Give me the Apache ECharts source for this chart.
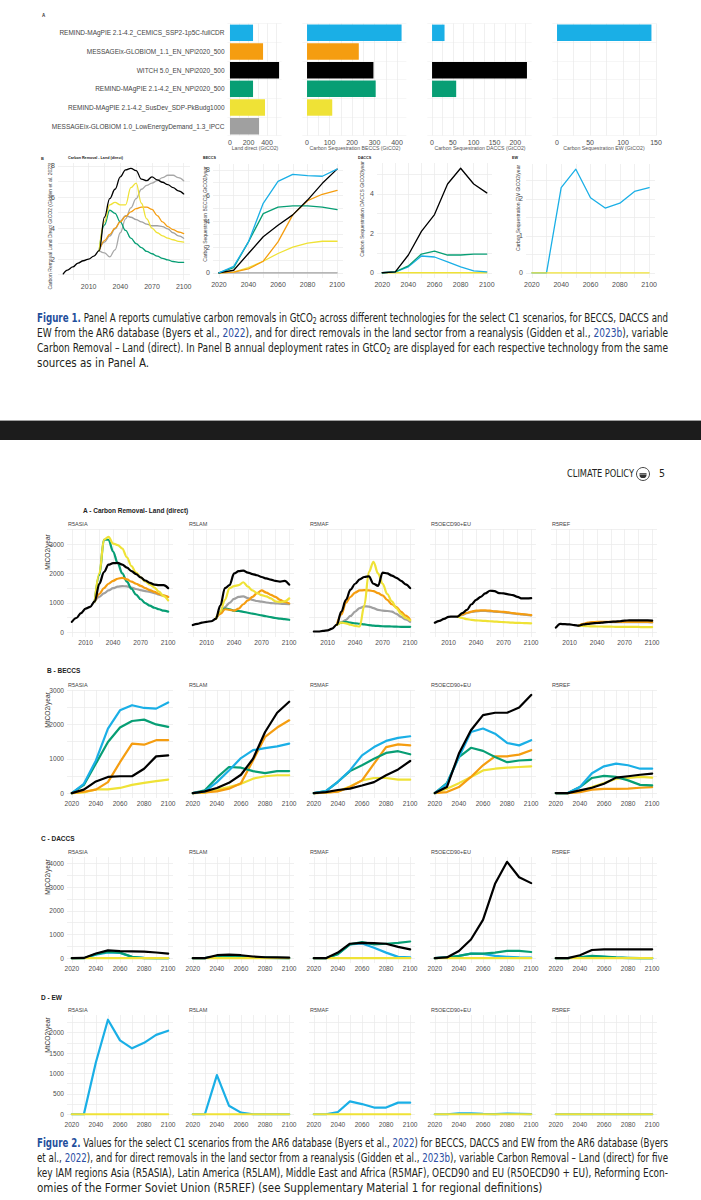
<!DOCTYPE html>
<html><head><meta charset="utf-8"><title>Carbon removal figures</title>
<script src="https://cdn.jsdelivr.net/npm/echarts@6.0.0/dist/echarts.min.js"></script>
<style>
html,body{margin:0;padding:0;background:#fff;}
#wrap{position:relative;width:701px;height:1200px;overflow:hidden;background:#fff;}
#chart{position:absolute;left:0;top:0;width:701px;height:1200px;}
.ln{position:absolute;white-space:nowrap;font-family:"Liberation Sans Narrow","DejaVu Sans Condensed","Liberation Sans",sans-serif;font-size:11.5px;line-height:13px;color:#231f20;}
.ln>span{display:inline-block;white-space:nowrap;transform-origin:0 50%;}
.fig{color:#1f4f9c;font-weight:bold;}
.ref{color:#2b4ea3;}
sub{font-size:70%;vertical-align:-0.25em;line-height:0;}
#band{position:absolute;left:0;top:420px;width:701px;height:19px;background:#1c1c1c;border-top:1px solid #a0a0a0;}
</style></head>
<body>
<div id="wrap">
<div id="chart"></div>
<div id="band"></div>
<div class="ln" style="left:37px;top:312px" data-w="631" data-mode="justify"><span><b class="fig">Figure 1.</b> Panel A reports cumulative carbon removals in GtCO<sub>2</sub> across different technologies for the select C1 scenarios, for BECCS, DACCS and</span></div>
<div class="ln" style="left:37px;top:327px" data-w="631" data-mode="justify"><span>EW from the AR6 database (Byers et al., <span class="ref">2022</span>), and for direct removals in the land sector from a reanalysis (Gidden et al., <span class="ref">2023b</span>), variable</span></div>
<div class="ln" style="left:37px;top:342px" data-w="631" data-mode="justify"><span>Carbon Removal – Land (direct). In Panel B annual deployment rates in GtCO<sub>2</sub> are displayed for each respective technology from the same</span></div>
<div class="ln" style="left:37px;top:357px" data-w="631" data-mode="last"><span>sources as in Panel A.</span></div>
<div class="ln" style="left:567px;top:467px;font-size:11px;" data-w="67" data-mode="fit"><span>CLIMATE POLICY</span></div>
<div class="ln" style="left:659px;top:467px;font-size:11px;" data-w="6" data-mode="fit"><span>5</span></div>
<div class="ln" style="left:37px;top:1137px" data-w="631" data-mode="justify"><span><b class="fig">Figure 2.</b> Values for the select C1 scenarios from the AR6 database (Byers et al., <span class="ref">2022</span>) for BECCS, DACCS and EW from the AR6 database (Byers</span></div>
<div class="ln" style="left:37px;top:1152px" data-w="631" data-mode="justify"><span>et al., <span class="ref">2022</span>), and for direct removals in the land sector from a reanalysis (Gidden et al., <span class="ref">2023b</span>), variable Carbon Removal – Land (direct) for five</span></div>
<div class="ln" style="left:37px;top:1167px" data-w="631" data-mode="justify"><span>key IAM regions Asia (R5ASIA), Latin America (R5LAM), Middle East and Africa (R5MAF), OECD90 and EU (R5OECD90 + EU), Reforming Econ-</span></div>
<div class="ln" style="left:37px;top:1182px" data-w="631" data-mode="last"><span>omies of the Former Soviet Union (R5REF) (see Supplementary Material 1 for regional definitions)</span></div>
</div>
<script>
// ---------------- DATA ----------------
const scenarios = [
  "REMIND-MAgPIE 2.1-4.2_CEMICS_SSP2-1p5C-fullCDR",
  "MESSAGEix-GLOBIOM_1.1_EN_NPi2020_500",
  "WITCH 5.0_EN_NPi2020_500",
  "REMIND-MAgPIE 2.1-4.2_EN_NPi2020_500",
  "REMIND-MAgPIE 2.1-4.2_SusDev_SDP-PkBudg1000",
  "MESSAGEix-GLOBIOM 1.0_LowEnergyDemand_1.3_IPCC"
];
const scenarioColorKeys = ["cyan","orange","black","green","yellow","grey"];
// Panel A (Figure 1): cumulative removals, GtCO2
const cumLandDirect = [249, 357, 530, 249, 378, 314];
const cumBECCS      = [420, 230, 295, 305, 112, null];
const cumDACCS      = [30, null, 228, 58, null, null];
const cumEW         = [143, null, null, null, null, null];

// Panel B (Figure 1): annual rates, GtCO2/yr
const yearsB1 = [1986,1990,1995,2000,2005,2010,2015,2020,2025,2030,2035,2040,2045,2050,2055,2060,2065,2070,2075,2080,2085,2090,2095,2100];
const landGlobal = {
  grey2: [null,null,null,null,null,null,null,2.55,2.4,2.15,2.6,3.7,4.6,5.3,5.9,6.5,6.75,6.9,7.05,7.25,7.4,7.4,7.25,7.05],
  grey:  [null,null,null,null,null,null,null,2.55,3.1,3.5,3.95,4.45,4.8,4.7,4.55,4.4,4.25,4.15,4.15,4.1,3.95,3.7,3.5,3.35],
  green: [null,null,null,null,null,null,null,2.55,4.2,5.15,4.95,4.4,3.85,3.35,3.0,2.75,2.5,2.35,2.2,2.05,1.95,1.85,1.8,1.8],
  orange:[null,null,null,null,null,null,null,2.55,3.2,3.6,4.0,4.4,4.75,5.05,5.25,5.35,5.35,5.2,4.8,4.4,4.1,3.9,3.75,3.65],
  yellow:[null,null,null,null,null,null,null,2.55,4.4,5.5,5.65,5.5,5.5,6.6,6.9,5.6,4.6,4.0,3.7,3.5,3.35,3.25,3.15,3.1],
  black: [1.05,1.3,1.5,1.75,1.9,2.0,2.2,2.55,4.7,5.9,6.5,7.3,7.75,7.85,7.7,7.15,7.05,7.3,7.1,6.95,6.8,6.6,6.4,6.2]
};
const years10 = [2020,2030,2040,2050,2060,2070,2080,2090,2100];
const beccsGlobal = {
  grey:  [0,0,0,0,0,0,0,0,0],
  yellow:[0,0.05,0.4,0.9,1.5,2.0,2.3,2.45,2.45],
  orange:[0,0.05,0.3,0.9,2.4,4.5,5.6,6.1,6.4],
  green: [0,0.4,2.4,4.6,5.1,5.2,5.2,5.1,4.9],
  black: [0,0.2,1.5,2.8,3.7,4.5,5.65,6.95,8.05],
  cyan:  [0,0.5,2.4,5.4,7.1,7.65,7.55,7.5,8.05]
};
const daccsGlobal = {
  yellow:[0,0,0,0,0,0,0,0,0],
  cyan:  [0,0.05,0.3,0.85,0.8,0.55,0.3,0.1,0.05],
  green: [0,0.05,0.35,0.95,1.1,0.9,0.9,0.95,0.95],
  black: [0,0.05,0.9,2.1,2.95,4.5,5.3,4.5,4.05]
};
const ewGlobal = {
  cyan:  [0,0,2.3,2.8,2.03,1.75,1.88,2.2,2.3],
  yellow:[0,0,0,0,0,0,0,0,0]
};

// Figure 2: regional values, MtCO2/yr
const regions = ["R5ASIA","R5LAM","R5MAF","R5OECD90+EU","R5REF"];
const years5 = [1995,2000,2005,2010,2015,2020,2025,2030,2035,2040,2045,2050,2055,2060,2065,2070,2075,2080,2085,2090,2095,2100];
const N5 = [null,null,null,null,null];
const landASIA = {
  grey:  N5.concat([1050,1200,1320,1420,1500,1550,1570,1560,1520,1470,1430,1400,1370,1330,1280,1240,1200]),
  green: N5.concat([1050,1950,3150,3150,2750,2350,2000,1720,1480,1280,1120,990,900,830,780,730,700]),
  orange:N5.concat([1050,1300,1500,1650,1750,1820,1850,1800,1720,1650,1580,1500,1430,1370,1300,1250,1200]),
  yellow:N5.concat([1050,2000,3150,3250,3020,2970,2850,2550,2250,2030,1870,1730,1620,1520,1380,1230,1080]),
  black: [350,480,650,800,860,1050,1650,2050,2300,2350,2360,2300,2200,2080,1980,1870,1760,1680,1620,1600,1600,1500]
};
const landLAM = {
  grey:  N5.concat([450,650,850,1000,1130,1200,1220,1160,1100,1060,1040,1010,990,980,970,960,950]),
  green: N5.concat([450,650,800,780,730,720,690,660,630,600,570,540,510,480,460,440,420]),
  orange:N5.concat([450,620,780,760,730,800,950,1080,1200,1330,1420,1350,1270,1200,1100,1030,980]),
  yellow:N5.concat([450,700,1100,1500,1570,1600,1700,1550,1420,1330,1260,1220,1150,1050,1020,1050,1150]),
  black: [240,280,320,350,370,450,900,1500,1600,2000,2080,2100,2030,1980,1940,1880,1830,1790,1750,1720,1750,1620]
};
const landMAF = {
  grey:  N5.concat([250,330,420,550,700,820,880,870,820,760,730,720,700,620,520,430,350]),
  green: N5.concat([250,320,350,320,300,285,260,240,220,210,200,195,190,185,180,180,180]),
  orange:N5.concat([250,600,1000,1200,1350,1420,1430,1420,1400,1330,1250,1100,950,850,700,560,420]),
  yellow:N5.concat([250,320,300,250,210,190,900,2050,2400,2000,1650,1300,1050,820,620,480,400]),
  black: [20,20,40,60,120,250,700,1100,1450,1650,1800,1880,1900,1650,1580,2030,2000,1930,1850,1750,1630,1500]
};
const landOECD = {
  grey:  N5.concat([530,590,645,685,710,720,720,710,695,685,675,655,635,615,600,590,570]),
  orange:N5.concat([530,600,660,700,730,740,740,730,710,700,690,670,650,630,610,600,580]),
  yellow:N5.concat([530,480,440,420,400,390,380,370,360,350,340,330,320,315,310,305,300]),
  black: [320,380,450,520,530,530,650,760,950,1100,1200,1320,1410,1400,1330,1320,1290,1260,1200,1150,1150,1160]
};
const landREF = {
  grey:  N5.concat([220,270,310,330,340,340,340,340,340,340,340,340,340,340,340,335,330]),
  orange:N5.concat([220,280,320,340,350,350,350,350,350,350,350,350,350,350,350,345,340]),
  yellow:N5.concat([220,210,200,195,190,190,185,185,180,180,180,175,175,175,170,170,170]),
  black: [150,280,270,260,240,220,260,280,300,310,320,340,350,360,370,390,400,400,400,400,400,390]
};
const beccsASIA = {yellow:[0,20,110,110,150,240,300,350,390], orange:[0,40,100,320,900,1440,1410,1540,1540], green:[0,240,860,1490,1910,2100,2140,2000,1930], cyan:[0,270,950,1880,2410,2560,2480,2460,2640], black:[0,100,340,470,490,490,710,1070,1100]};
const beccsLAM  = {yellow:[0,10,100,175,270,420,490,520,520], orange:[0,20,50,130,290,950,1640,1910,2120], green:[0,80,450,760,740,640,580,640,640], cyan:[0,50,320,660,1020,1250,1310,1360,1440], black:[0,50,150,300,535,1000,1780,2340,2660]};
const beccsMAF  = {yellow:[0,10,50,195,370,440,440,390,390], orange:[0,10,40,175,370,860,1340,1420,1390], green:[0,60,330,640,810,1000,1170,1220,1130], cyan:[0,60,330,660,1100,1340,1520,1610,1655], black:[0,30,90,130,220,320,520,690,935]};
const beccsOECD = {yellow:[0,130,290,470,660,710,740,760,780], orange:[0,30,175,470,810,1070,1070,1120,1250], green:[0,290,1050,1320,1230,1050,900,950,970], cyan:[0,270,1050,1780,1880,1730,1460,1390,1540], black:[0,175,1150,1830,2270,2340,2340,2490,2860]};
const beccsREF  = {yellow:[0,0,40,175,290,420,440,470,450], orange:[0,0,30,100,125,125,130,155,175], green:[0,0,175,440,500,470,370,240,225], cyan:[0,0,175,580,780,860,810,710,710], black:[0,0,80,155,270,450,490,535,565]};
const daccsASIA = {cyan:[0,0,150,240,220,60,10,0,0], green:[0,0,170,260,235,55,0,0,0], yellow:[0,0,0,0,0,0,0,0,0], black:[0,10,200,330,300,290,280,240,190]};
const daccsLAM  = {cyan:[0,0,70,90,70,30,10,0,0], green:[0,0,80,100,80,40,20,10,0], yellow:[0,0,0,0,0,0,0,0,0], black:[0,0,125,150,125,70,40,30,20]};
const daccsMAF  = {cyan:[0,0,180,580,620,440,235,55,30], green:[0,0,170,580,680,580,610,650,705], yellow:[0,0,0,0,0,0,0,0,0], black:[0,0,235,610,650,640,610,480,375]};
const daccsOECD = {cyan:[0,30,100,195,180,100,60,30,20], green:[0,30,100,195,195,235,305,305,260], yellow:[0,0,0,0,0,0,0,0,0], black:[0,30,305,790,1620,3140,4070,3420,3170]};
const daccsREF  = {cyan:[0,0,40,90,60,20,0,0,0], green:[0,0,40,100,70,30,10,0,0], yellow:[0,0,0,0,0,0,0,0,0], black:[0,0,125,345,375,375,375,375,375]};
const ewASIA = {cyan:[0,0,1275,2315,1810,1615,1750,1945,2045], yellow:[0,0,0,0,0,0,0,0,0]};
const ewLAM  = {cyan:[0,0,960,210,40,0,0,0,0], yellow:[0,0,0,0,0,0,0,0,0]};
const ewMAF  = {cyan:[0,0,55,315,250,165,165,285,285], yellow:[0,0,0,0,0,0,0,0,0]};
const ewOECD = {cyan:[0,0,25,25,10,5,15,10,5], yellow:[0,0,0,0,0,0,0,0,0]};
const ewREF  = {cyan:[0,0,0,0,0,0,0,0,0], yellow:[0,0,0,0,0,0,0,0,0]};

// ---------------- STYLE ----------------
const COL = {cyan:'#1AAFE6', orange:'#F59D10', black:'#000000', green:'#079E74', yellow:'#EFE236', grey:'#A0A0A0', grey2:'#A8A8A8'};
const GRIDC = '#e9e9e9';
const TXT = '#4d4d4d';
const FONT = '"Liberation Sans", Arial, sans-serif';

const grids=[], xAxes=[], yAxes=[], series=[], graphics=[];

function valAxis(i, a, fs, margin, showLab){
  return {
    gridIndex:i, type:'value', min:a.min, max:a.max, inverse:false,
    axisLine:{show:false}, axisTick:{show:false, customValues:a.ticks},
    axisLabel:{show:showLab!==false, customValues:a.labels, formatter:v=>String(v), fontSize:fs, color:TXT, margin:margin, fontFamily:FONT,
      hideOverlap:false, showMinLabel:true, showMaxLabel:true},
    splitLine:{show:true, lineStyle:{color:GRIDC, width:0.7}},
    minorSplitLine:{show:false}
  };
}
function addGrid(box){
  grids.push({left:box[0], top:box[1], width:box[2], height:box[3], containLabel:false, outerBoundsMode:'none', show:false});
  return grids.length-1;
}
function addLine(gi, xs, ys, color, width, smooth){
  const d=[];
  xs.forEach((x,k)=>{ if(ys[k]!=null) d.push([x, ys[k]]); });
  series.push({type:'line', xAxisIndex:gi, yAxisIndex:gi, data:d, showSymbol:false, symbol:'none',
    smooth:smooth||false, smoothMonotone:'x', lineStyle:{color:color, width:width, cap:'round', join:'round'},
    itemStyle:{color:color}, silent:true, animation:false, clip:true});
}
function txt(x,y,s,o){
  o=o||{};
  graphics.push({type:'text', x:x, y:y, rotation:o.rot||0, silent:true, z:100,
    style:{text:s, fontSize:o.fs||6, fontWeight:o.bold?'bold':'normal', fill:o.color||'#333', fontFamily:FONT,
      align:o.align||'left', verticalAlign:o.va||'middle'}});
}

// ---------------- FIGURE 1, PANEL A (bars) ----------------
const barDefs = [
  {vals:cumLandDirect, left:227.5, width:54,  min:-26.5, max:556,   ticks:[0,100,200,300,400,500], labels:[0,200,400], title:'Land direct (GtCO2)', tx:255},
  {vals:cumBECCS,      left:302.3, width:104, min:-21,   max:441,   ticks:[0,50,100,150,200,250,300,350,400], labels:[0,100,200,300,400], title:'Carbon Sequestration BECCS (GtCO2)', tx:355},
  {vals:cumDACCS,      left:427.3, width:104.4,min:-11.4,max:239.4, ticks:[0,25,50,75,100,125,150,175,200,225], labels:[0,50,100,150,200], title:'Carbon Sequestration DACCS (GtCO2)', tx:480},
  {vals:cumEW,         left:552.3, width:103.9, min:-7.15, max:150.2, ticks:[0,25,50,75,100,125,150], labels:[0,50,100,150], title:'Carbon Sequestration EW (GtCO2)', tx:604}
];
barDefs.forEach((b,bi)=>{
  const gi = addGrid([b.left, 23.5, b.width, 112]);
  xAxes.push(valAxis(gi, {min:b.min, max:b.max, ticks:b.ticks, labels:b.labels}, 7, 3));
  yAxes.push({gridIndex:gi, type:'category', data:scenarios, inverse:true,
    axisLine:{show:false}, axisTick:{show:false},
    axisLabel:{show:bi===0, interval:0, fontSize:6.5, color:'#444', margin:3, fontFamily:FONT},
    splitLine:{show:true, lineStyle:{color:'#f0f0f0', width:0.6}}});
  series.push({type:'bar', xAxisIndex:gi, yAxisIndex:gi, barWidth:'88%', silent:true, animation:false,
    data:b.vals.map((v,k)=>({value:v, itemStyle:{color:COL[scenarioColorKeys[k]]}}))});
  txt(b.tx, 148, b.title, {fs:5.2, color:'#555', align:'center'});
});
txt(42, 15, 'A', {fs:4.5, color:'#333', bold:true});

// ---------------- FIGURE 1, PANEL B (lines) ----------------
txt(41, 158, 'B', {fs:4, color:'#333', bold:true});
const xB10 = {min:2016, max:2104, ticks:[2020,2030,2040,2050,2060,2070,2080,2090,2100], labels:[2020,2040,2060,2080,2100]};
const b1 = addGrid([58,163,132,117]);
xAxes.push(valAxis(b1, {min:1981, max:2106, ticks:[1995,2010,2025,2040,2055,2070,2085,2100], labels:[2010,2040,2070,2100]}, 7, 3));
yAxes.push(valAxis(b1, {min:0.66, max:8.19, ticks:[1,2,3,4,5,6,7,8], labels:[2,4,6,8]}, 7, 3));
['grey2','grey','green','orange','yellow','black'].forEach(k=>addLine(b1, yearsB1, landGlobal[k], COL[k], 1.3, 0.4));
txt(68,158,'Carbon Removal - Land (direct)',{fs:3.7,bold:true,color:'#222'});
txt(50,226,'Carbon Removal Land Direct GtCO2 (Gidden et al. 2023)',{fs:5,rot:Math.PI/2,align:'center',color:'#444'});

const b2 = addGrid([213,164,130,114]);
xAxes.push(valAxis(b2, xB10, 7, 3));
yAxes.push(valAxis(b2, {min:-0.4025, max:8.45, ticks:[0,1,2,3,4,5,6,7,8], labels:[0,2,4,6,8]}, 7, 3));
['grey','yellow','orange','green','black','cyan'].forEach(k=>addLine(b2, years10, beccsGlobal[k], COL[k], 1.3, false));
txt(203,158,'BECCS',{fs:3.7,bold:true,color:'#222'});
txt(205,214,'Carbon Sequestration BECCS GtCO2/year',{fs:5,rot:Math.PI/2,align:'center',color:'#444'});

const b3 = addGrid([377,163,115,115]);
xAxes.push(valAxis(b3, xB10, 7, 3));
yAxes.push(valAxis(b3, {min:-0.265, max:5.565, ticks:[0,1,2,3,4,5], labels:[0,2,4]}, 7, 3));
['yellow','cyan','green','black'].forEach(k=>addLine(b3, years10, daccsGlobal[k], COL[k], 1.3, false));
txt(358,158,'DACCS',{fs:3.7,bold:true,color:'#222'});
txt(362,209,'Carbon Sequestration DACCS GtCO2/year',{fs:5,rot:Math.PI/2,align:'center',color:'#444'});

const b4 = addGrid([526,164,129,114]);
xAxes.push(valAxis(b4, xB10, 7, 3));
yAxes.push(valAxis(b4, {min:-0.14, max:2.94, ticks:[0,0.5,1,1.5,2,2.5], labels:[0,1,2]}, 7, 3));
['cyan','yellow'].forEach(k=>addLine(b4, years10, ewGlobal[k], COL[k], 1.3, false));
txt(512,158,'EW',{fs:3.7,bold:true,color:'#222'});
txt(518,208,'Carbon Sequestration EW GtCO2/year',{fs:5,rot:Math.PI/2,align:'center',color:'#444'});

// ---------------- FIGURE 2 ----------------
const colLefts = [67,188,309,430,551];
const xRowA = {min:1989.75, max:2105.25, ticks:[1995,2010,2025,2040,2055,2070,2085,2100], labels:[2010,2040,2070,2100]};
const fig2Rows = [
  {title:'A - Carbon Removal- Land (direct)', tx:83, ty:510, top:529, h:108, xs:years5, xa:xRowA, smooth:0.35,
   ya:{min:-167.5, max:3517.5, ticks:[0,500,1000,1500,2000,2500,3000,3500], labels:[0,1000,2000,3000]},
   data:[landASIA,landLAM,landMAF,landOECD,landREF], order:['grey','green','orange','yellow','black'], ytitleY:552},
  {title:'B - BECCS', tx:47, ty:670, top:690, h:108, xs:years10, xa:xB10, smooth:false,
   ya:{min:-143, max:3003, ticks:[0,500,1000,1500,2000,2500,3000], labels:[0,1000,2000,3000]},
   data:[beccsASIA,beccsLAM,beccsMAF,beccsOECD,beccsREF], order:['yellow','orange','green','cyan','black'], ytitleY:710},
  {title:'C - DACCS', tx:41, ty:838, top:857, h:106, xs:years10, xa:xB10, smooth:false,
   ya:{min:-203.5, max:4273.5, ticks:[0,500,1000,1500,2000,2500,3000,3500,4000], labels:[0,1000,2000,3000,4000]},
   data:[daccsASIA,daccsLAM,daccsMAF,daccsOECD,daccsREF], order:['cyan','green','yellow','black'], ytitleY:877},
  {title:'D - EW', tx:41, ty:997, top:1015, h:104, xs:years10, xa:xB10, smooth:false,
   ya:{min:-115.75, max:2430.75, ticks:[0,250,500,750,1000,1250,1500,1750,2000,2250], labels:[0,500,1000,1500,2000]},
   data:[ewASIA,ewLAM,ewMAF,ewOECD,ewREF], order:['cyan','yellow'], ytitleY:1035}
];
fig2Rows.forEach(row=>{
  txt(row.tx, row.ty, row.title, {fs:6.5, bold:true, color:'#222'});
  txt(47, row.ytitleY, 'MtCO2/year', {fs:6.6, rot:Math.PI/2, align:'center', color:'#333'});
  regions.forEach((reg,ci)=>{
    const gi = addGrid([colLefts[ci], row.top, 106, row.h]);
    xAxes.push(valAxis(gi, row.xa, 6.6, 2));
    yAxes.push(valAxis(gi, row.ya, 6.6, 3, ci===0));
    const d = row.data[ci];
    row.order.forEach(k=>{ if(d[k]) addLine(gi, row.xs, d[k], COL[k], 2.2, row.smooth); });
    txt(colLefts[ci]+1, row.top-5, reg, {fs:5.5, color:'#444'});
  });
});

// page header icon
graphics.push({type:'circle', shape:{cx:643, cy:474, r:6.5}, style:{fill:'#fff', stroke:'#333', lineWidth:0.9}, silent:true});
graphics.push({type:'sector', shape:{cx:643, cy:474.5, r0:0, r:3.6, startAngle:0, endAngle:Math.PI}, style:{fill:'#333'}, silent:true});
graphics.push({type:'rect', shape:{x:639.5, y:473.2, width:7, height:1}, style:{fill:'#333'}, silent:true});

// ---------------- RENDER ----------------
const chart = echarts.init(document.getElementById('chart'), null, {renderer:'svg', width:701, height:1200});
chart.setOption({
  animation:false, backgroundColor:'transparent',
  textStyle:{fontFamily:FONT},
  grid:grids, xAxis:xAxes, yAxis:yAxes, series:series, graphic:{elements:graphics}
});

// caption line fitting (justify)
function fitLines(){
  document.querySelectorAll('.ln').forEach(el=>{
    const W = parseFloat(el.dataset.w), mode = el.dataset.mode;
    const inner = el.firstElementChild;
    inner.style.wordSpacing=''; inner.style.transform='';
    const w = inner.getBoundingClientRect().width;
    if (mode==='fit'){ inner.style.transform='scaleX('+(W/w)+')'; return; }
    if (mode==='last'){ if (w>W) inner.style.transform='scaleX('+(W/w)+')'; return; }
    const spaces = (inner.textContent.match(/ /g)||[]).length;
    if (w < W && spaces){ inner.style.wordSpacing = ((W-w)/spaces)+'px'; }
    else if (w > W){ inner.style.transform='scaleX('+(W/w)+')'; }
  });
}
fitLines();
if (document.fonts && document.fonts.ready) document.fonts.ready.then(fitLines);
</script>
</body></html>
